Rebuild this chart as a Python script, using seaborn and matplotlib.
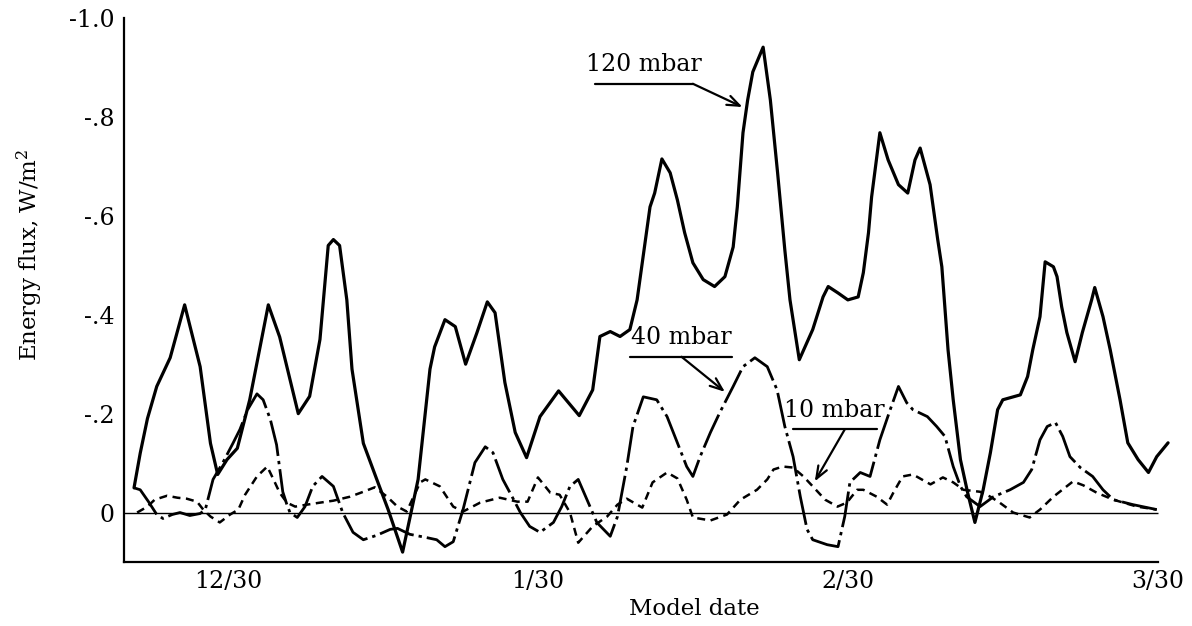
import matplotlib
matplotlib.use("Agg")
import matplotlib.pyplot as plt
import seaborn as sns
import pandas as pd

# ---- data (days after 12/30 model date, energy flux W/m^2) ----
d120 = [-9.1, -8.5, -7.8, -6.9, -5.6, -4.2, -2.7, -1.7, -1.0, -0.1, 0.9, 2.1, 3.9, 5.0, 6.8, 7.9,
        8.9, 9.7, 10.2, 10.8, 11.5, 12.0, 13.1, 14.4, 15.5, 16.9, 18.4, 19.55, 20.0, 21.0, 22.0,
        23.0, 24.1, 25.1, 25.85, 26.8, 27.8, 28.9, 30.2, 32.0, 34.0, 35.3, 36.0, 37.0, 37.95, 38.9,
        39.6, 40.85, 41.3, 42.0, 42.8, 43.5, 44.2, 45.0, 46.0, 47.1, 48.1, 48.9, 49.3, 49.85, 50.3,
        50.8, 51.8, 52.5, 53.2, 53.9, 54.4, 55.3, 56.6, 57.6, 58.1, 59.05, 60.0, 61.0, 61.5, 62.0,
        62.3, 62.8, 63.1, 63.9, 64.9, 65.8, 66.5, 67.0, 67.96, 68.7, 69.1, 69.7, 70.2, 70.9, 71.6,
        72.3, 73.1, 73.8, 74.5, 75.0, 76.7, 77.4, 77.9, 78.6, 79.1, 79.9, 80.25, 80.7, 81.2, 82.0,
        82.7, 83.6, 83.9, 84.7, 85.4, 86.35, 87.1, 88.1, 89.1, 89.9, 91.0]
v120 = [-0.05, -0.12, -0.19, -0.255, -0.313, -0.42, -0.295, -0.14, -0.077, -0.107, -0.13, -0.228,
        -0.42, -0.355, -0.20, -0.235, -0.35, -0.54, -0.552, -0.54, -0.43, -0.29, -0.14, -0.067,
        -0.006, 0.08, -0.067, -0.29, -0.335, -0.39, -0.376, -0.30, -0.364, -0.426, -0.404, -0.263,
        -0.162, -0.111, -0.194, -0.246, -0.196, -0.248, -0.356, -0.366, -0.356, -0.37, -0.43,
        -0.618, -0.646, -0.715, -0.687, -0.632, -0.566, -0.505, -0.471, -0.457, -0.477, -0.537,
        -0.618, -0.768, -0.834, -0.891, -0.941, -0.834, -0.687, -0.531, -0.43, -0.309, -0.37,
        -0.436, -0.457, -0.444, -0.43, -0.436, -0.485, -0.566, -0.638, -0.719, -0.768, -0.713,
        -0.663, -0.646, -0.713, -0.737, -0.663, -0.552, -0.497, -0.329, -0.228, -0.107, -0.04,
        0.02, -0.046, -0.121, -0.208, -0.228, -0.238, -0.275, -0.329, -0.396, -0.507, -0.497,
        -0.477, -0.416, -0.364, -0.305, -0.364, -0.43, -0.455, -0.396, -0.329, -0.228, -0.141,
        -0.107, -0.081, -0.113, -0.141]

d40 = [-9.1, -8.5, -7.7, -6.9, -6.3, -5.4, -4.65, -3.7, -2.7, -2.2, -1.45, -0.5, 0.5, 1.15, 1.9,
       2.8, 3.4, 4.1, 4.7, 5.3, 5.7, 6.0, 6.7, 7.45, 8.2, 9.1, 10.2, 11.1, 12.1, 13.1, 14.4, 15.7,
       16.4, 17.6, 19.3, 20.2, 21.0, 21.8, 22.75, 23.9, 24.9, 25.65, 26.6, 27.5, 28.3, 29.2, 30.2,
       31.5, 32.3, 33.1, 33.9, 34.75, 35.7, 37.0, 37.7, 38.6, 39.2, 40.2, 41.5, 42.5, 43.5, 44.4,
       45.0, 45.7, 46.7, 47.6, 48.9, 49.85, 51.0, 52.2, 53.15, 53.9, 54.7, 55.4, 56.05, 56.6, 58.0,
       59.05, 59.7, 60.2, 61.2, 62.15, 63.1, 64.1, 64.9, 65.7, 66.3, 67.7, 68.6, 69.4, 70.2, 70.9,
       71.5, 72.8, 74.1, 75.7, 77.0, 77.8, 78.6, 79.3, 80.1, 80.8, 81.5, 82.5, 83.7, 84.7, 85.7,
       87.6, 89.9]
v40 = [-0.05, -0.046, -0.022, 0.004, 0.012, 0.004, 0.0, 0.006, 0.002, -0.006, -0.067, -0.101,
       -0.141, -0.168, -0.208, -0.24, -0.228, -0.188, -0.137, -0.042, -0.016, 0.0, 0.010, -0.012,
       -0.053, -0.073, -0.053, 0.0, 0.04, 0.055, 0.046, 0.034, 0.032, 0.044, 0.051, 0.055, 0.069,
       0.059, -0.006, -0.101, -0.133, -0.121, -0.067, -0.032, 0.0, 0.028, 0.04, 0.02, -0.012,
       -0.053, -0.067, -0.026, 0.020, 0.048, 0.008, -0.093, -0.174, -0.234, -0.228, -0.194, -0.141,
       -0.093, -0.073, -0.113, -0.162, -0.202, -0.255, -0.295, -0.313, -0.295, -0.248, -0.174,
       -0.113, -0.032, 0.034, 0.055, 0.065, 0.069, 0.008, -0.061, -0.081, -0.073, -0.147, -0.208,
       -0.255, -0.222, -0.208, -0.194, -0.174, -0.154, -0.093, -0.053, -0.032, -0.012, -0.032,
       -0.046, -0.061, -0.087, -0.147, -0.174, -0.182, -0.154, -0.113, -0.091, -0.073, -0.046,
       -0.026, -0.016, -0.006]

d10 = [-8.8, -7.8, -7.1, -5.9, -4.9, -4.0, -3.0, -2.4, -1.7, -0.8, 0.2, 1.0, 1.65, 2.8, 3.8, 4.4,
       5.0, 5.7, 6.5, 7.65, 8.9, 10.2, 11.8, 13.1, 14.2, 15.4, 16.4, 17.3, 18.6, 19.1, 20.5, 21.8,
       22.75, 24.4, 26.3, 28.0, 29.0, 30.0, 31.2, 32.1, 33.1, 33.9, 35.3, 36.7, 37.7, 38.6, 40.1,
       41.1, 42.5, 43.5, 44.4, 45.0, 46.7, 48.3, 49.6, 51.2, 52.2, 52.8, 53.7, 54.7, 55.7, 56.6,
       57.8, 59.0, 59.9, 60.9, 61.5, 62.8, 63.8, 64.4, 65.3, 66.3, 68.0, 69.2, 70.2, 71.2, 72.8,
       73.8, 74.7, 76.0, 77.6, 78.6, 79.9, 81.8, 82.8, 84.1, 85.7, 88.0, 89.9]
v10 = [0.0, -0.012, -0.026, -0.034, -0.030, -0.028, -0.022, -0.006, 0.008, 0.020, 0.004, -0.006,
       -0.036, -0.073, -0.093, -0.067, -0.040, -0.020, -0.012, -0.016, -0.020, -0.024, -0.032,
       -0.042, -0.051, -0.032, -0.012, -0.002, -0.061, -0.067, -0.053, -0.012, -0.002, -0.020,
       -0.030, -0.022, -0.022, -0.071, -0.040, -0.036, 0.0, 0.061, 0.028, 0.008, -0.016, -0.028,
       -0.010, -0.061, -0.081, -0.069, -0.026, 0.010, 0.016, 0.004, -0.026, -0.046, -0.067,
       -0.087, -0.093, -0.091, -0.073, -0.053, -0.026, -0.012, -0.020, -0.046, -0.046, -0.032,
       -0.016, -0.040, -0.073, -0.077, -0.057, -0.071, -0.061, -0.046, -0.042, -0.032, -0.020,
       0.0, 0.010, -0.006, -0.032, -0.063, -0.055, -0.040, -0.026, -0.012, -0.006]

major_days = [0, 30, 60, 90]
major_labels = ["12/30", "1/30", "2/30", "3/30"]
minor_days = [10, 20, 40, 50, 70, 80]
y_major = [-1.0, -0.8, -0.6, -0.4, -0.2, 0.0]
y_major_labels = ["-1.0", "-.8", "-.6", "-.4", "-.2", "0"]
y_minor = [-0.9, -0.7, -0.5, -0.3, -0.1]
series_names = ["120 mbar", "40 mbar", "10 mbar"]

# ---- style ----
sns.set_style("white")
plt.rcParams["font.family"] = ["DejaVu Serif"]
plt.rcParams["mathtext.fontset"] = "dejavuserif"
plt.rcParams["text.color"] = "black"
plt.rcParams["axes.labelcolor"] = "black"

fig = plt.figure(figsize=(11.92, 6.26), dpi=100)
ax = fig.add_axes([124 / 1192, 64 / 626, 1051 / 1192, 544 / 626])

df120 = pd.DataFrame({"day": d120, "flux": v120})
df40 = pd.DataFrame({"day": d40, "flux": v40})
df10 = pd.DataFrame({"day": d10, "flux": v10})

sns.lineplot(data=df120, x="day", y="flux", ax=ax, color="black", lw=2.3,
             estimator=None, sort=False, solid_joinstyle="round")
sns.lineplot(data=df40, x="day", y="flux", ax=ax, color="black", lw=2.0,
             estimator=None, sort=False, linestyle=(0, (13, 1.8, 1.2, 1.8)))
sns.lineplot(data=df10, x="day", y="flux", ax=ax, color="black", lw=1.8,
             estimator=None, sort=False, linestyle=(0, (3.2, 2.2)))

xmin, xmax = -10.07, 91.67
ax.set_xlim(xmin, xmax)
ax.set_ylim(0.1, -1.0)
ax.hlines(0, xmin, major_days[-1], color="black", lw=1.0)

for s in ["top", "right"]:
    ax.spines[s].set_visible(False)
for s in ["left", "bottom"]:
    ax.spines[s].set_linewidth(1.6)
    ax.spines[s].set_color("black")
ax.spines["bottom"].set_bounds(xmin, major_days[-1])

ax.set_xticks(major_days)
ax.set_xticklabels(major_labels)
ax.set_xticks(minor_days, minor=True)
ax.set_yticks(y_major)
ax.set_yticklabels(y_major_labels)
ax.set_yticks(y_minor, minor=True)

ax.tick_params(axis="x", which="major", direction="in", length=21, width=1.6,
               labelsize=17, pad=6, colors="black")
ax.tick_params(axis="x", which="minor", direction="in", length=6.5, width=1.6)
ax.tick_params(axis="y", which="both", direction="in", length=15, width=1.5,
               labelsize=17, pad=7, colors="black")
ax.tick_params(axis="y", which="minor", length=15)

ax.set_xlabel("Model date", fontsize=16.5)
ax.set_ylabel("Energy flux, W/m$^2$", fontsize=16.5)
ax.xaxis.set_label_coords(0.543, -0.066)
ax.yaxis.set_label_coords(-0.075, 0.565)

# ---- annotations (labels with underline leader and arrow) ----
annos = [
    # name, text center, underline x-range, underline y, arrow start x, arrow tip
    (series_names[0], (40.3, -0.905), (35.5, 45.0), -0.867, 45.0, (49.8, -0.82)),
    (series_names[1], (43.9, -0.354), (38.9, 48.8), -0.315, 43.9, (48.1, -0.244)),
    (series_names[2], (58.7, -0.206), (54.7, 62.8), -0.168, 59.7, (56.8, -0.063)),
]
for name, tc, ux, uy, ax0, tip in annos:
    ax.text(tc[0], tc[1], name, fontsize=17, ha="center", va="center", color="black")
    ax.plot(list(ux), [uy, uy], color="black", lw=1.6)
    ax.annotate("", xy=tip, xytext=(ax0, uy),
                arrowprops=dict(arrowstyle="->,head_length=0.9,head_width=0.35",
                                color="black", lw=1.6, shrinkA=0, shrinkB=0))

fig.savefig("out.png", dpi=100, facecolor="white")
